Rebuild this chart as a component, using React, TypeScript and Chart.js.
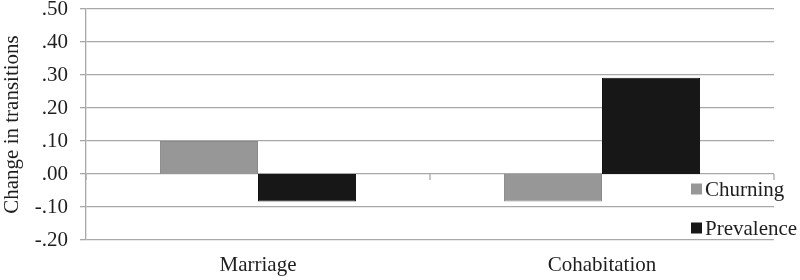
import React, { useEffect, useRef } from "react";
import { Chart, registerables } from "chart.js";

Chart.register(...registerables);

const categories = ["Marriage", "Cohabitation"];
const seriesNames = ["Churning", "Prevalence"];
const churning = [0.1, -0.083];
const prevalence = [-0.083, 0.292];
const yMin = -0.2;
const yMax = 0.5;
const yStep = 0.1;

const FONT = "'Liberation Serif', 'Times New Roman', serif";
const TEXT = "#1e1e1e";
const GRID = "#a8a8a8";
const COLORS = ["#979797", "#171717"];
const BORDERS = ["#8a8a8a", "#111111"];

const fmt = (v: number) => {
  const s = Math.abs(v).toFixed(2).replace(/^0/, "");
  return (v < -1e-9 ? "-" : "") + s;
};

const overlay = {
  id: "overlay",
  afterDraw(chart: any) {
    const { ctx, chartArea, scales } = chart;
    const y0 = scales.y.getPixelForValue(0);
    ctx.save();
    ctx.strokeStyle = GRID;
    ctx.lineWidth = 1.3;
    const xs = [chartArea.left, (chartArea.left + chartArea.right) / 2, chartArea.right];
    xs.forEach((x) => {
      ctx.beginPath();
      ctx.moveTo(x, y0);
      ctx.lineTo(x, y0 + 6);
      ctx.stroke();
    });
    // legend
    const items = [
      { label: seriesNames[0], color: COLORS[0] },
      { label: seriesNames[1], color: COLORS[1] },
    ];
    const lx = chartArea.right - 83;
    const ys = [189, 228];
    ctx.font = `21px ${FONT}`;
    ctx.textBaseline = "middle";
    ctx.textAlign = "left";
    items.forEach((it, i) => {
      ctx.fillStyle = it.color;
      ctx.fillRect(lx, ys[i] - 5.5, 11, 11);
      ctx.fillStyle = TEXT;
      ctx.fillText(it.label, lx + 14, ys[i] + 1);
    });
    ctx.restore();
  },
};

export default function App() {
  const ref = useRef<HTMLCanvasElement>(null);
  useEffect(() => {
    document.body.style.margin = "0";
    const chart = new Chart(ref.current!, {
      type: "bar",
      data: {
        labels: categories,
        datasets: [
          {
            label: seriesNames[0],
            data: churning,
            backgroundColor: COLORS[0],
            borderColor: BORDERS[0],
            borderWidth: 1,
          },
          {
            label: seriesNames[1],
            data: prevalence,
            backgroundColor: COLORS[1],
            borderColor: BORDERS[1],
            borderWidth: 1,
          },
        ],
      },
      options: {
        animation: false,
        responsive: false,
        maintainAspectRatio: false,
        layout: { padding: { top: 9, right: 26, left: 0, bottom: 0 } },
        datasets: { bar: { barPercentage: 1, categoryPercentage: 0.57 } },
        plugins: { legend: { display: false }, tooltip: { enabled: false } },
        scales: {
          x: {
            grid: { display: false, drawTicks: false },
            border: { display: false },
            ticks: { color: TEXT, font: { family: FONT, size: 21 }, padding: 13 },
            afterFit: (s: any) => {
              s.height = 40;
            },
          },
          y: {
            min: yMin,
            max: yMax,
            ticks: {
              stepSize: yStep,
              color: TEXT,
              font: { family: FONT, size: 21 },
              padding: 12,
              callback: (v: any) => fmt(Number(v)),
            },
            grid: { color: GRID, lineWidth: 1.3, tickLength: 6 },
            border: { color: GRID, width: 1.3 },
            title: {
              display: true,
              text: "Change in transitions",
              color: TEXT,
              font: { family: FONT, size: 21 },
              padding: { top: 0, bottom: 0 },
            },
            afterFit: (s: any) => {
              s.width = 86;
              s.paddingTop = 0;
              s.paddingBottom = 0;
            },
          },
        },
      },
      plugins: [overlay],
    });
    return () => chart.destroy();
  }, []);
  return (
    <div style={{ width: 800, height: 280 }}>
      <canvas ref={ref} width={800} height={280} style={{ display: "block" }} />
    </div>
  );
}
